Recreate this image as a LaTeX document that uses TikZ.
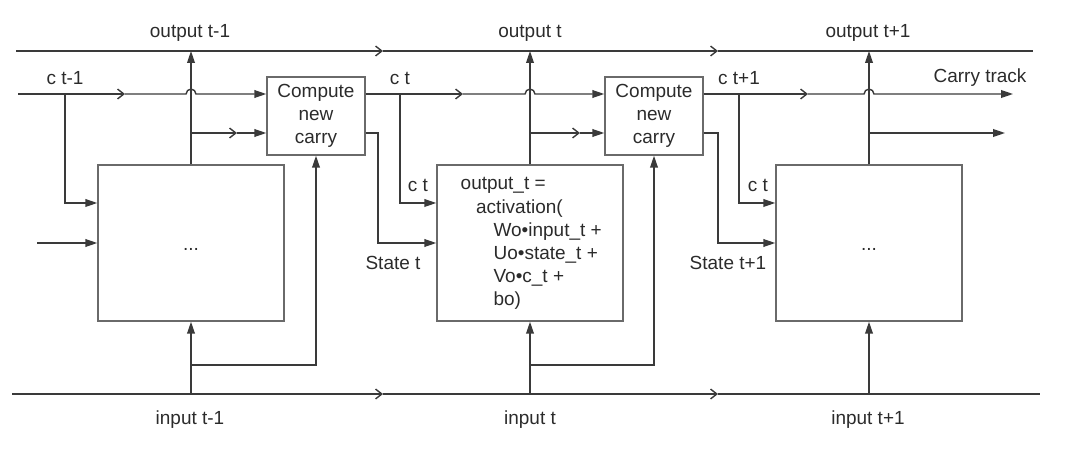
\documentclass[tikz,border=0pt]{standalone}
\usepackage{fontspec}
\setmainfont{Liberation Sans}
\usetikzlibrary{arrows.meta,calc}
\definecolor{linegray}{HTML}{3A3A3A}
\definecolor{boxgray}{HTML}{6A6A6A}
\definecolor{textgray}{HTML}{2B2B2B}
\begin{document}
\begin{tikzpicture}[x=0.025cm,y=-0.025cm,line width=1pt,color=linegray,
    lbl/.style={text=textgray,font=\fontsize{13.5}{16.5}\selectfont,inner sep=0pt},
    cell/.style={draw=boxgray,minimum width=4.65cm,minimum height=3.9cm,inner sep=0pt},
    carrybox/.style={draw=boxgray,minimum width=2.45cm,minimum height=1.95cm,inner sep=0pt,align=center,lbl},
    tip/.style={-{Triangle[length=8.5pt,width=5.5pt]}},
    chev/.style={-{Straight Barb[length=4.5pt,width=7pt]}}]
            \useasboundingbox (0,0) rectangle (1080,453);
            \coordinate (outy) at (0,51);
            \coordinate (carryy) at (0,94);
            \coordinate (sidey) at (0,133);
            \coordinate (feedy) at (0,365);
            \coordinate (iny) at (0,394);

            \node[cell] (cell1) at (191,243) {};
            \node[cell] (cell2) at (530,243) {};
            \node[cell] (cell3) at (869,243) {};
            \node[carrybox] (comp1) at (316,116) {Compute\\new\\carry};
            \node[carrybox] (comp2) at (654,116) {Compute\\new\\carry};
            \node[lbl] (dots1) at (191,249) {...};
            \node[lbl] (dots3) at (869,249) {...};
            \node[lbl,align=left,anchor=north west] (eq) at (460,177) {output\_t =\\\hspace*{11pt}activation(\\\hspace*{23.4pt}Wo•input\_t +\\\hspace*{23.4pt}Uo•state\_t +\\\hspace*{23.4pt}Vo•c\_t +\\\hspace*{23.4pt}bo)};

            \coordinate (out0) at (16,51);
            \coordinate (och1) at (383,51);
            \coordinate (och2) at (718,51);
            \coordinate (out1) at (1033,51);
            \coordinate (in0) at (12,394);
            \coordinate (ich1) at (383,394);
            \coordinate (ich2) at (718,394);
            \coordinate (in1) at (1040,394);
            \draw[chev] (out0) -- (och1);
            \draw[chev] (och1) -- (och2);
            \draw (och2) -- (out1);
            \draw[chev] (in0) -- (ich1);
            \draw[chev] (ich1) -- (ich2);
            \draw (ich2) -- (in1);

            \coordinate (c0) at (18,94);
            \coordinate (cch1) at (125,94);
            \coordinate (cch2) at (463,94);
            \coordinate (cch3) at (808,94);
            \coordinate (cend) at (1013,94);
            \coordinate (hop1) at (cell1.north |- carryy);
            \coordinate (hop2) at (cell2.north |- carryy);
            \coordinate (hop3) at (cell3.north |- carryy);
            \draw[chev] (c0) -- (cch1);
            \draw[tip] (cch1) -- ([xshift=-3.5pt]hop1) arc[start angle=180,end angle=0,radius=3.5pt] -- (comp1.west |- carryy);
            \draw[chev] (comp1.east |- carryy) -- (cch2);
            \draw[tip] (cch2) -- ([xshift=-3.5pt]hop2) arc[start angle=180,end angle=0,radius=3.5pt] -- (comp2.west |- carryy);
            \draw[chev] (comp2.east |- carryy) -- (cch3);
            \draw[tip] (cch3) -- ([xshift=-3.5pt]hop3) arc[start angle=180,end angle=0,radius=3.5pt] -- (cend);

            \draw[tip] (cell1.north) -- (cell1.north |- outy);
            \draw[tip] (cell2.north) -- (cell2.north |- outy);
            \draw[tip] (cell3.north) -- (cell3.north |- outy);

            \coordinate (sch1) at (237,133);
            \coordinate (sch2) at (580,133);
            \coordinate (send) at (1005,133);
            \draw[chev] (cell1.north |- sidey) -- (sch1);
            \draw[tip] (sch1) -- (comp1.west |- sidey);
            \draw[chev] (cell2.north |- sidey) -- (sch2);
            \draw[tip] (sch2) -- (comp2.west |- sidey);
            \draw[tip] (cell3.north |- sidey) -- (send);

            \coordinate (cb1) at (65,94);
            \coordinate (cb2) at (400,94);
            \coordinate (cb3) at (739,94);
            \draw[tip] (cb1) |- ([yshift=1cm]cell1.west);
            \draw[tip] (cb2) |- ([yshift=1cm]cell2.west);
            \draw[tip] (cb3) |- ([yshift=1cm]cell3.west);
            \coordinate (x1) at (37,243);
            \draw[tip] (x1) -- (cell1.west);
            \coordinate (sb2) at (378,133);
            \coordinate (sb3) at (718,133);
            \draw[tip] (comp1.east |- sidey) -- (sb2) |- (cell2.west);
            \draw[tip] (comp2.east |- sidey) -- (sb3) |- (cell3.west);

            \draw[tip] (cell1.south |- iny) -- (cell1.south);
            \draw[tip] (cell2.south |- iny) -- (cell2.south);
            \draw[tip] (cell3.south |- iny) -- (cell3.south);
            \draw[tip] (cell1.south |- feedy) -| (comp1.south);
            \draw[tip] (cell2.south |- feedy) -| (comp2.south);

            \node[lbl] (o1) at (190,33) {output t-1};
            \node[lbl] (o2) at (530,33) {output t};
            \node[lbl] (o3) at (868,33) {output t+1};
            \node[lbl] (i1) at (190,420) {input t-1};
            \node[lbl] (i2) at (530,420) {input t};
            \node[lbl] (i3) at (868,420) {input t+1};
            \node[lbl] (l1) at (65,78) {c t-1};
            \node[lbl] (l2) at (400,78) {c t};
            \node[lbl] (l3) at (739,78) {c t+1};
            \node[lbl] (track) at (980,78) {Carry track};
            \node[lbl] (k2) at (418,185) {c t};
            \node[lbl] (k3) at (758,185) {c t};
            \node[lbl] (s2) at (393,263) {State t};
            \node[lbl] (s3) at (728,263) {State t+1};
        \end{tikzpicture}
\end{document}
